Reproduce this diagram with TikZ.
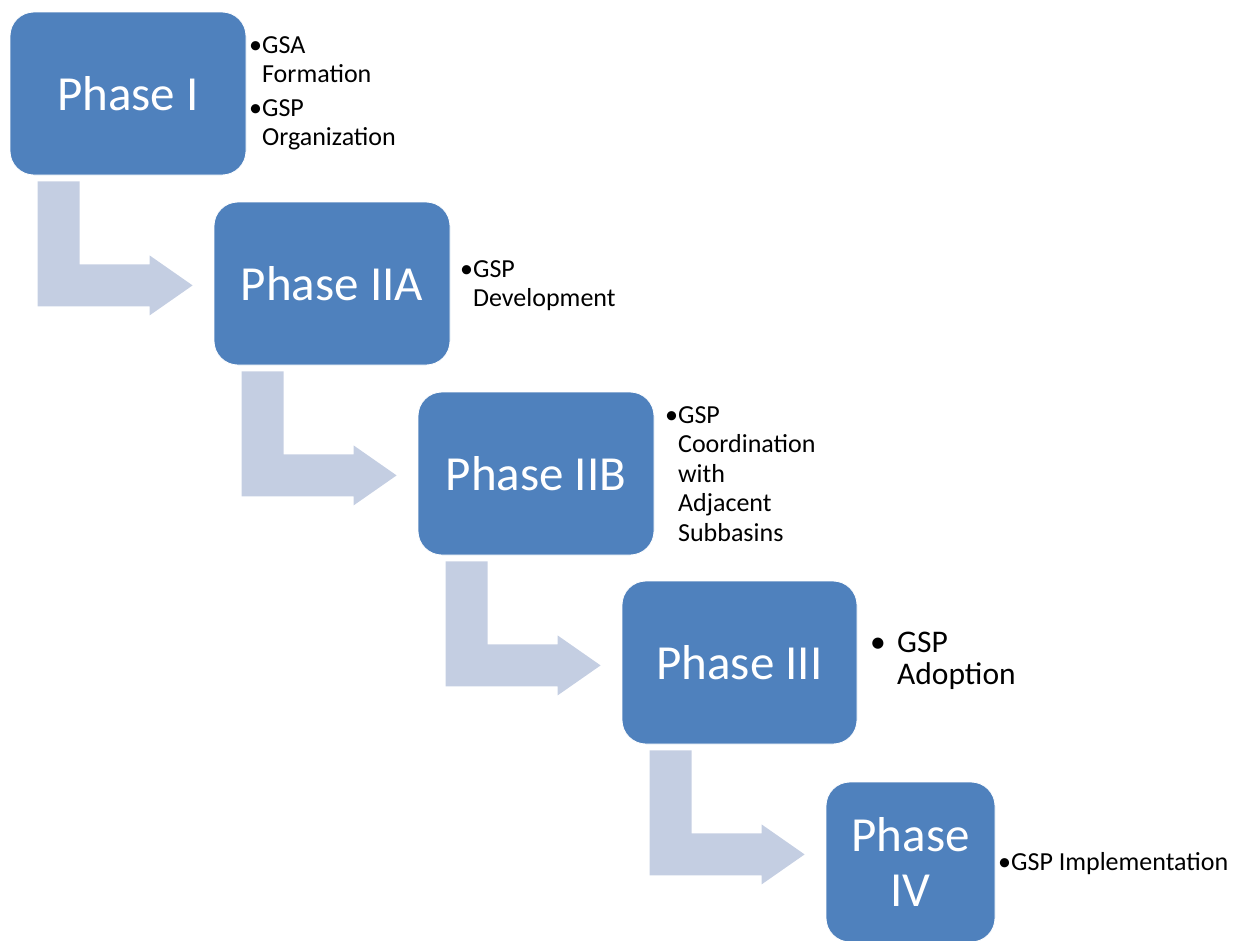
\documentclass[tikz,border=0pt]{standalone}
\usepackage{fontspec}
\setmainfont{Carlito}
\usetikzlibrary{calc}
\definecolor{phaseblue}{HTML}{4F81BD}
\definecolor{arrowgray}{HTML}{C4CEE2}

\begin{document}
\begin{tikzpicture}[x=1pt, y=-1pt,
      phase/.style={draw=white, line width=0.8pt, fill=phaseblue, rounded corners=24pt,
                    minimum width=236pt, minimum height=163pt, inner sep=0pt,
                    align=center, text=white, font=\fontsize{49}{55}\selectfont},
      elbow/.style={fill=arrowgray, to path={let \p1=(\tikztostart), \p2=(\tikztotarget) in
                    (\x1+28pt,\y1-6pt) -- (\x1+70pt,\y1-6pt) -- (\x1+70pt,\y1-89pt)
                    -- (\x2-64pt,\y1-89pt) -- (\x2-64pt,\y1-80pt) -- (\x2-21pt,\y1-110pt)
                    -- (\x2-64pt,\y1-140pt) -- (\x2-64pt,\y1-131pt) -- (\x1+28pt,\y1-131pt) -- cycle}},
      note/.style={anchor=base west, inner sep=0pt, font=\fontsize{26}{29.5}\selectfont}
    ]
    \useasboundingbox (0,0) rectangle (1245,940);

    % Phasen
    \node[phase] (p1)   at (128,93.5)   {Phase I};
    \node[phase] (p2a)  at (332,283.5)  {Phase IIA};
    \node[phase] (p2b)  at (536,473.5)  {Phase IIB};
    \node[phase, minimum width=235pt] (p3) at (739.5,662.5) {Phase III};
    \node[phase, minimum width=169pt, minimum height=160pt] (p4) at (910.5,862) {Phase\\IV};

    % Pfeile
    \path[elbow] (p1.south west)  to (p2a.west);
    \path[elbow] (p2a.south west) to (p2b.west);
    \path[elbow] (p2b.south west) to (p3.west);
    \path[elbow] (p3.south west)  to (p4.west);

    % Stichpunkte
    \node[note] (n1) at (249,53) {\begin{tabular}[t]{@{}l@{}l@{}}
      \textbullet & GSA\\ & Formation\\[4pt] \textbullet & GSP\\ & Organization\end{tabular}};
    \node[note] (n2a) at (460,277) {\begin{tabular}[t]{@{}l@{}l@{}}
      \textbullet & GSP\\ & Development\end{tabular}};
    \node[note] (n2b) at (665,423) {\begin{tabular}[t]{@{}l@{}l@{}}
      \textbullet & GSP\\ & Coordination\\ & with\\ & Adjacent\\ & Subbasins\end{tabular}};
    \node[note, font=\fontsize{31.5}{32}\selectfont] (n3) at (870,652) {\begin{tabular}[t]{@{}l@{}l@{}}
      \makebox[27pt][l]{\textbullet} & GSP\\ & Adoption\end{tabular}};
    \node[note] (n4) at (998,870) {\textbullet GSP Implementation};
  \end{tikzpicture}
\end{document}
